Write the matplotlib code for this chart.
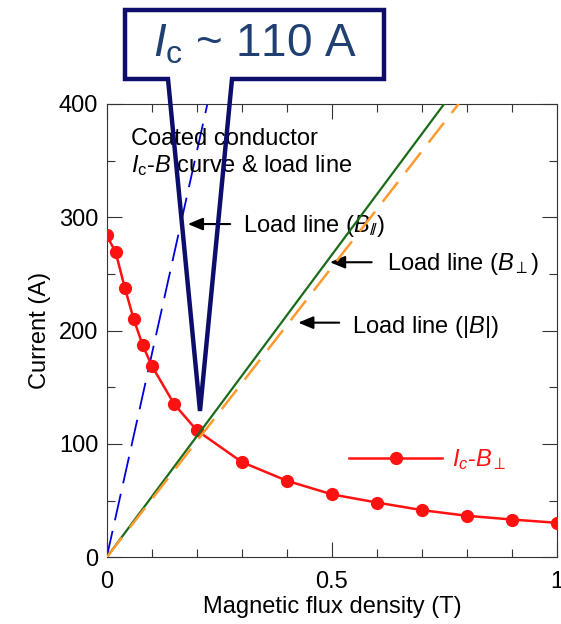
import matplotlib.pyplot as plt
import numpy as np
from matplotlib.patches import Polygon

plt.rcParams['font.family'] = ['Liberation Sans', 'DejaVu Sans']
plt.rcParams['mathtext.fontset'] = 'custom'
plt.rcParams['mathtext.rm'] = 'Liberation Sans'
plt.rcParams['mathtext.it'] = 'Liberation Sans:italic'
plt.rcParams['mathtext.bf'] = 'Liberation Sans:bold'

# Ic-B(perp) curve of the coated conductor
b_field = [0, 0.02, 0.04, 0.06, 0.08, 0.1, 0.15, 0.2, 0.3, 0.4, 0.5, 0.6, 0.7, 0.8, 0.9, 1.0]
ic_perp = [284, 269, 238, 210, 187, 169, 135, 112, 84, 67.5, 55.5, 48.3, 41.6, 36.6, 33.3, 30.4]

# load lines (B, I) end points
load_par_b = [0, 0.2235]
load_par_i = [0, 400]
load_perp_b = [0, 0.749]
load_perp_i = [0, 400]
load_abs_b = [0, 0.781]
load_abs_i = [0, 400]

fig = plt.figure(figsize=(5.61, 6.24), dpi=100)
ax = fig.add_axes([0.1902, 0.1069, 0.8032, 0.7266])

ax.plot(load_par_b, load_par_i, color='#0000dd', lw=1.3, dashes=(15, 6), zorder=2)
ax.plot(b_field, ic_perp, color='#ff1111', lw=1.8, marker='o', ms=8.5,
        label=r'$I_c$-$B_\perp$', zorder=3)
ax.plot(load_perp_b, load_perp_i, color='#1a6b1a', lw=1.6, zorder=4)
ax.plot(load_abs_b, load_abs_i, color='#ff9a2e', lw=1.8, dashes=(10, 5), zorder=5)

ax.set_xlim(0, 1)
ax.set_ylim(0, 400)
ax.set_xticks([0, 0.5, 1])
ax.set_xticklabels(['0', '0.5', '1'])
ax.set_xticks(np.arange(0, 1.01, 0.1), minor=True)
ax.set_yticks([0, 100, 200, 300, 400])
ax.set_yticks(np.arange(0, 401, 50), minor=True)
ax.tick_params(which='both', direction='in', top=True, right=True,
               labelsize=17, color='#333333', width=0.8)
ax.tick_params(which='major', length=11)
ax.tick_params(which='minor', length=6)
ax.tick_params(axis='x', pad=10)
ax.tick_params(axis='y', pad=6)
for s in ax.spines.values():
    s.set_linewidth(0.8)
    s.set_color('#333333')

ax.set_xlabel('Magnetic flux density (T)', fontsize=17, labelpad=2)
ax.set_ylabel('Current (A)', fontsize=17, labelpad=6)

ax.text(0.053, 363.8, 'Coated conductor', fontsize=17)
ax.text(0.053, 339.4, r'$I_{\rm c}$-$B$ curve & load line', fontsize=17)

# arrows with labels
arrow_kw = dict(arrowstyle='-|>,head_length=0.6,head_width=0.25', color='black',
                lw=1.5, mutation_scale=15, shrinkA=0, shrinkB=0)
ax.annotate('', xy=(0.180, 294), xytext=(0.274, 294), arrowprops=arrow_kw)
ax.text(0.302, 287.3, r'Load line ($B_{/\!/}$)', fontsize=17)
ax.annotate('', xy=(0.4955, 260.3), xytext=(0.588, 260.3), arrowprops=arrow_kw)
ax.text(0.622, 253.5, r'Load line ($B_\perp$)', fontsize=17)
ax.annotate('', xy=(0.425, 207), xytext=(0.516, 207), arrowprops=arrow_kw)
ax.text(0.544, 197.6, r'Load line (|$B$|)', fontsize=17)

ax.legend(loc='center left', bbox_to_anchor=(0.538, 0.2146), frameon=False,
          fontsize=17, handlelength=3.94, handletextpad=0.42, borderpad=0,
          borderaxespad=0, numpoints=1, labelcolor='#ff1111')

# callout box with pointer, in figure pixels (from top-left)
W, H = 561, 624
pts = [(125, 10), (384, 10), (384, 79), (232, 79), (200, 411), (168, 79), (125, 79)]
poly = Polygon([(x / W, 1 - y / H) for x, y in pts], closed=True, fill=False,
               edgecolor='#0d0d6b', lw=3.2, joinstyle='miter',
               transform=fig.transFigure, zorder=10)
fig.patches.append(poly)
fig.text(255 / W, 1 - 45 / H, r'$I_{\rm c}$ ~ 110 A', fontsize=33, color='#1f4070',
         ha='center', va='center', zorder=11)

fig.savefig('out.png', dpi=100)
